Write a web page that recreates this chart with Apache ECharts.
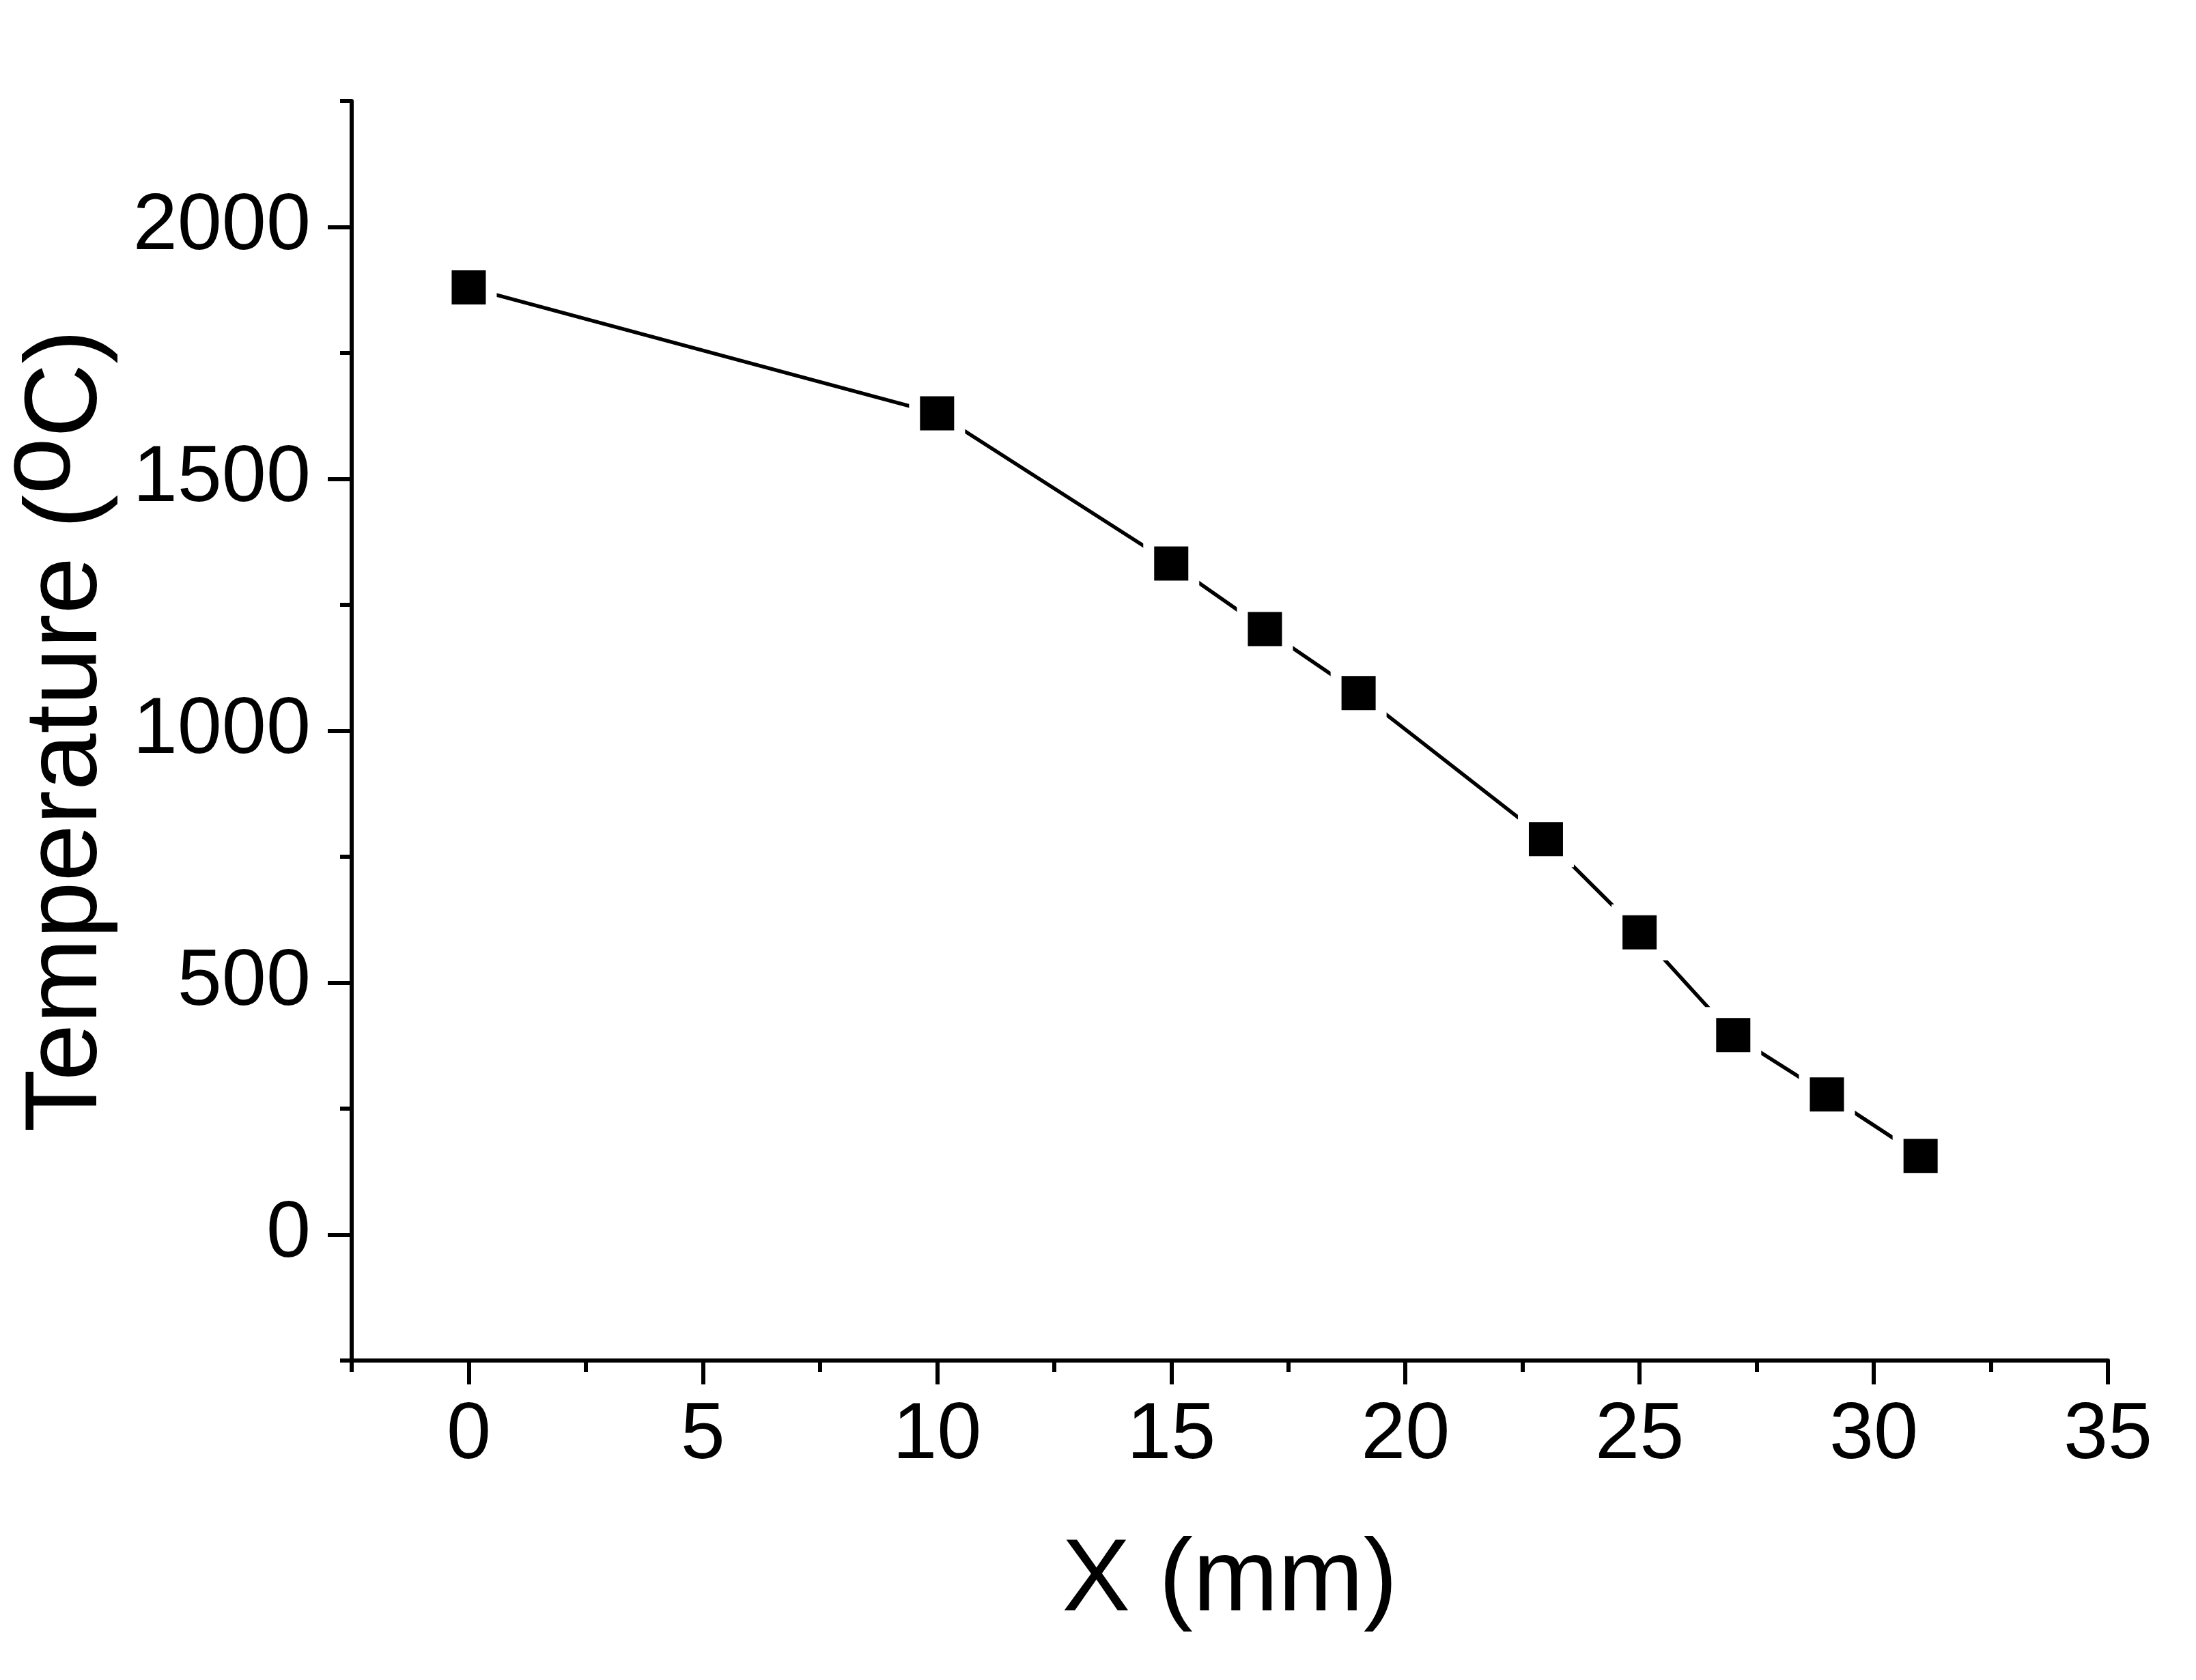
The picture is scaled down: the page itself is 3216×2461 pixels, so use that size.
<!DOCTYPE html>
<html>
<head>
<meta charset="utf-8">
<script src="https://cdn.jsdelivr.net/npm/echarts@6/dist/echarts.min.js"></script>
<style>
html,body{margin:0;padding:0;background:#fff;}
#chart{width:3216px;height:2461px;}
</style>
</head>
<body>
<div id="chart"></div>
<script>
// ---- data ----
const xValues = [0, 10, 15, 17, 19, 23, 25, 27, 29, 31];
const temperature = [1880, 1630, 1332, 1202, 1075, 785, 600, 396, 278, 156];
const xTicks = [0, 5, 10, 15, 20, 25, 30, 35];
const yTicks = [0, 500, 1000, 1500, 2000];
const xTitle = 'X (mm)';
const yTitle = 'Temperature ({sup|o}C)';

// ---- layout ----
const W = 3216, H = 2461;
const G = {left: 515, right: 129, top: 148, bottom: 468};
const xRange = [-2.5, 35], yRange = [-250, 2250];
const xMinor = 2.5, yMinor = 250;
const xMajor = xTicks[1] - xTicks[0], yMajor = yTicks[1] - yTicks[0];

const FONT = '"Liberation Sans", Arial, Helvetica, sans-serif';
const seriesData = xValues.map((x, i) => [x, temperature[i]]);

const plotW = W - G.left - G.right, plotH = H - G.top - G.bottom;
const xPx = v => G.left + (v - xRange[0]) / (xRange[1] - xRange[0]) * plotW;
const yPx = v => G.top + (yRange[1] - v) / (yRange[1] - yRange[0]) * plotH;

// grid for major x ticks (range xTicks[0]..xTicks[last])
const gridX = {left: xPx(xTicks[0]), right: W - xPx(xTicks[xTicks.length - 1]), top: G.top, bottom: G.bottom};
// grid for major y ticks (range yTicks[0]..yTicks[last])
const gridY = {left: G.left, right: G.right, top: yPx(yTicks[yTicks.length - 1]), bottom: H - yPx(yTicks[0])};

const chart = echarts.init(document.getElementById('chart'), null, {renderer: 'canvas'});

const black = '#000';
const tickStyle = {color: black, width: 6};
const labelStyle = {fontSize: 117, fontFamily: FONT, color: black, formatter: v => String(v)};

chart.setOption({
  animation: false,
  backgroundColor: '#fff',
  grid: [
    Object.assign({containLabel: false, outerBoundsMode: 'none'}, G),
    Object.assign({containLabel: false, outerBoundsMode: 'none'}, gridX),
    Object.assign({containLabel: false, outerBoundsMode: 'none'}, gridY)
  ],
  xAxis: [
    {
      gridIndex: 0, type: 'value', min: xRange[0], max: xRange[1], interval: xMinor, position: 'bottom',
      axisLine: {show: true, onZero: false, lineStyle: {color: black, width: 6}},
      axisTick: {show: true, length: 17, inside: false, lineStyle: tickStyle},
      axisLabel: {show: false},
      splitLine: {show: false},
      name: xTitle, nameLocation: 'middle', nameGap: 235,
      nameTextStyle: {fontSize: 150, fontFamily: FONT, color: black, lineHeight: 180}
    },
    {
      gridIndex: 1, type: 'value', min: xTicks[0], max: xTicks[xTicks.length - 1], interval: xMajor, position: 'bottom',
      axisLine: {show: false, onZero: false},
      axisTick: {show: true, length: 35, inside: false, lineStyle: tickStyle},
      axisLabel: Object.assign({show: true, margin: 52}, labelStyle),
      splitLine: {show: false}
    },
    {gridIndex: 2, type: 'value', show: false, min: 0, max: 1}
  ],
  yAxis: [
    {
      gridIndex: 0, type: 'value', min: yRange[0], max: yRange[1], interval: yMinor, position: 'left',
      axisLine: {show: true, onZero: false, lineStyle: {color: black, width: 6}},
      axisTick: {show: true, length: 17, inside: false, lineStyle: tickStyle},
      axisLabel: {show: false},
      splitLine: {show: false},
      name: yTitle, nameLocation: 'middle', nameGap: 325, nameRotate: 90,
      nameTextStyle: {
        fontSize: 150, fontFamily: FONT, color: black, lineHeight: 180,
        rich: {sup: {fontSize: 150, fontFamily: FONT, color: black, lineHeight: 102, height: 102, verticalAlign: 'top'}}
      }
    },
    {gridIndex: 1, type: 'value', show: false, min: 0, max: 1},
    {
      gridIndex: 2, type: 'value', min: yTicks[0], max: yTicks[yTicks.length - 1], interval: yMajor, position: 'left',
      axisLine: {show: false, onZero: false},
      axisTick: {show: true, length: 35, inside: false, lineStyle: tickStyle},
      axisLabel: Object.assign({show: true, margin: 60}, labelStyle),
      splitLine: {show: false}
    }
  ],
  series: [
    {
      type: 'line',
      xAxisIndex: 0, yAxisIndex: 0,
      data: seriesData,
      symbol: 'rect',
      symbolSize: 66,
      showAllSymbol: true,
      itemStyle: {color: black, borderColor: '#fff', borderWidth: 16},
      lineStyle: {color: black, width: 5.5},
      emphasis: {disabled: true},
      z: 5
    }
  ]
});
</script>
</body>
</html>
